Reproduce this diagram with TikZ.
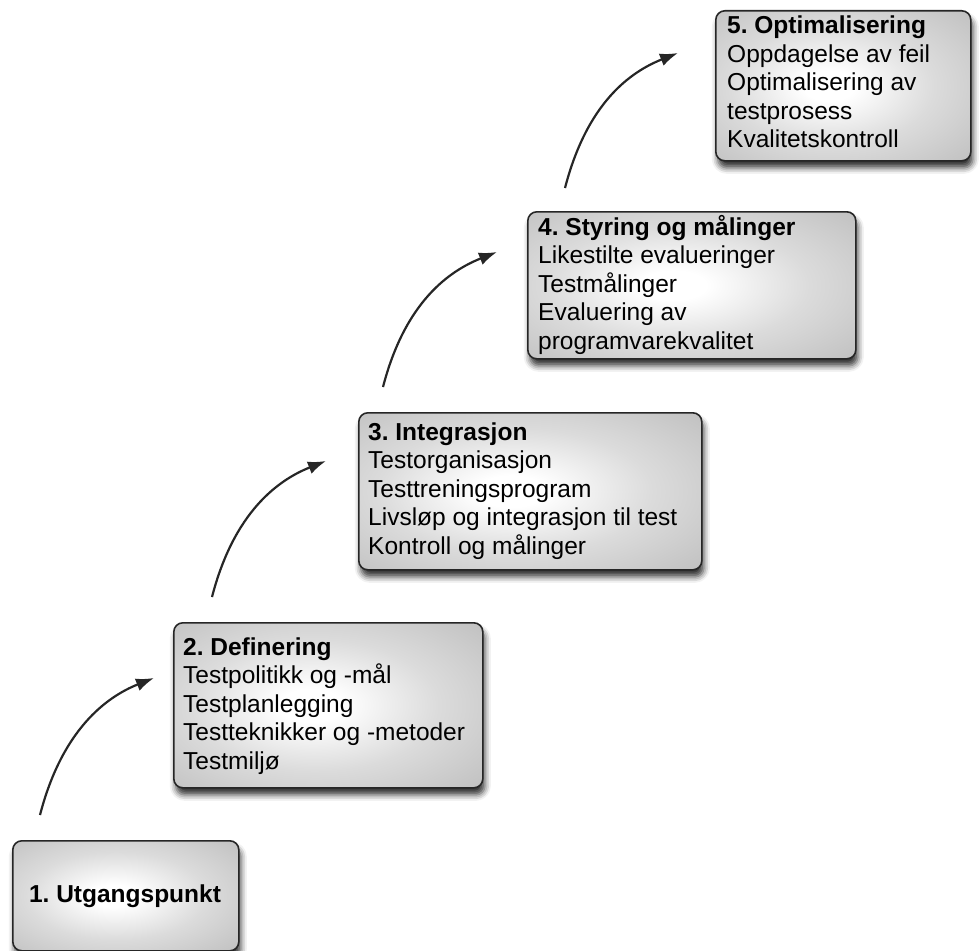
\documentclass[tikz,border=0pt]{standalone}
\usepackage{fontspec}
\setmainfont{Liberation Sans}
\usetikzlibrary{arrows.meta,shadows.blur}
\frenchspacing
\pgfdeclareradialshading{boxshade}{\pgfpoint{-3bp}{0bp}}{color(0bp)=(white); color(5bp)=(white); color(20bp)=(white!86!black); color(50bp)=(white!67!black); color(72bp)=(white!56!black)}
\tikzset{
  stagebox/.style={draw=black!85, line width=1.6pt, rounded corners=9pt, shading=boxshade,
    blur shadow={shadow xshift=2pt, shadow yshift=-7pt, shadow blur radius=6pt, shadow opacity=80},
    anchor=north west, inner sep=0pt},
  stagetext/.style={inner sep=0pt, anchor=base west, text=black},
  stagearrow/.style={draw=black!85, line width=2.2pt, -{Latex[length=18pt,width=13pt]}}
}
\newcommand{\stagelines}[1]{\parbox[t]{340pt}{\raggedright\frenchspacing\fontsize{24.5}{28.5}\selectfont #1}}
\begin{document}
\begin{tikzpicture}[x=1pt,y=-1pt]
\useasboundingbox (0,0) rectangle (979,950);
% boxes
\node[stagebox, minimum width=255pt, minimum height=150pt] (b5) at (715,10) {};
\node[stagebox, minimum width=328pt, minimum height=147pt] (b4) at (527,211) {};
\node[stagebox, minimum width=343pt, minimum height=157pt] (b3) at (358,412) {};
\node[stagebox, minimum width=309pt, minimum height=165pt] (b2) at (173,622) {};
\node[stagebox, minimum width=226pt, minimum height=110pt] (b1) at (12,840) {};
% texts
\node[stagetext] (t5) at (727,34) {\stagelines{\textbf{5. Optimalisering}\\Oppdagelse av feil\\Optimalisering av\\testprosess\\Kvalitetskontroll}};
\node[stagetext] (t4) at (538,235) {\stagelines{\textbf{4. Styring og målinger}\\Likestilte evalueringer\\Testmålinger\\Evaluering av\\programvarekvalitet}};
\node[stagetext] (t3) at (368,440) {\stagelines{\textbf{3. Integrasjon}\\Testorganisasjon\\Testtreningsprogram\\Livsløp og integrasjon til test\\Kontroll og målinger}};
\node[stagetext] (t2) at (183,655) {\stagelines{\textbf{2. Definering}\\Testpolitikk og -mål\\Testplanlegging\\Testteknikker og -metoder\\Testmiljø}};
\node[inner sep=0pt, anchor=base, font=\fontsize{24.5}{28.5}\selectfont\bfseries] (t1) at (125,902) {1. Utgangspunkt};
% arrow coordinates
\coordinate (s1) at (40,815);  \coordinate (e1) at (154,678);
\coordinate (s2) at (212,597); \coordinate (e2) at (326,461);
\coordinate (s3) at (383,387); \coordinate (e3) at (497,252);
\coordinate (s4) at (565,188); \coordinate (e4) at (678,53);
\foreach \i in {1,2,3,4}{
  \draw[stagearrow] (s\i) .. controls ($(s\i)+(22,-85)$) and ($(e\i)+(-48,19)$) .. (e\i);
}
\end{tikzpicture}
\end{document}
